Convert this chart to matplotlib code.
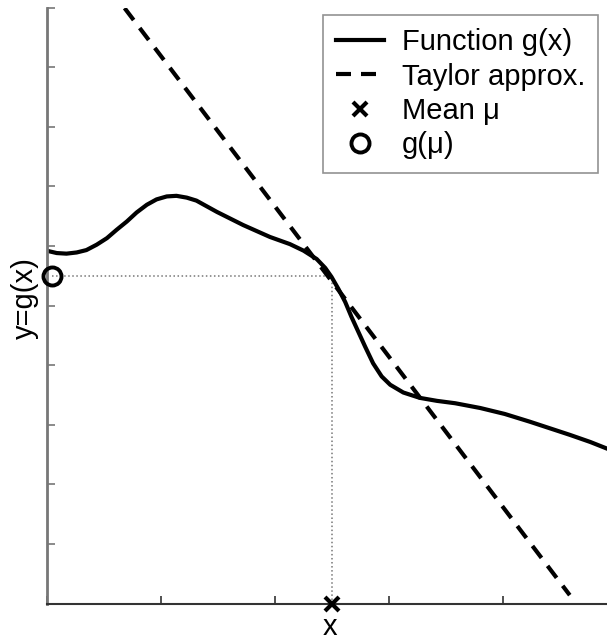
"""Nonlinear function g(x), its Taylor approximation at the mean."""

import matplotlib
matplotlib.use("Agg")
import matplotlib.pyplot as plt

plt.rcParams["font.family"] = ["Liberation Sans", "DejaVu Sans"]

# function g(x)
gx = [0.000, 0.018, 0.035, 0.053, 0.070, 0.088, 0.106, 0.123, 0.141,
      0.158, 0.176, 0.193, 0.211, 0.228, 0.246, 0.263, 0.299, 0.345,
      0.392, 0.427, 0.451, 0.474, 0.489, 0.500, 0.512, 0.524, 0.535,
      0.547, 0.559, 0.573, 0.588, 0.603, 0.626, 0.655, 0.685, 0.717,
      0.761, 0.804, 0.848, 0.883, 0.918, 0.954, 0.983, 1.000]
gy = [0.592, 0.588, 0.587, 0.589, 0.593, 0.602, 0.613, 0.627, 0.641,
      0.656, 0.669, 0.678, 0.683, 0.684, 0.681, 0.676, 0.657, 0.635,
      0.615, 0.603, 0.592, 0.578, 0.563, 0.548, 0.528, 0.506, 0.481,
      0.456, 0.431, 0.403, 0.381, 0.367, 0.354, 0.345, 0.340, 0.336,
      0.328, 0.318, 0.305, 0.294, 0.283, 0.271, 0.260, 0.254]

# first-order Taylor line (end points)
taylor_x = [0.137, 0.918]
taylor_y = [0.999, 0.014]

mu = 0.5
g_mu = 0.549

xticks = [0.0, 0.2, 0.4, 0.6, 0.8, 1.0]
yticks = [0.0, 0.1, 0.2, 0.3, 0.4, 0.5, 0.6, 0.7, 0.8, 0.9, 1.0]

fig = plt.figure(figsize=(6.07, 6.42), dpi=100)
ax = fig.add_axes([46.5 / 607, 38.5 / 642, 570 / 607, 596 / 642])

ax.plot([0.01, mu], [g_mu, g_mu], ":", color="#777777", lw=1.1)
ax.plot([mu, mu], [0, g_mu], ":", color="#777777", lw=1.1)

ax.plot(gx, gy, "-", color="black", lw=3, label="Function g(x)")
ax.plot(taylor_x, taylor_y, "--", color="black", lw=3, dashes=(3.6, 2.4),
        label="Taylor approx.")
ax.plot([mu], [0], "x", color="black", ms=10, mew=3, clip_on=False,
        zorder=5, label="Mean \u03bc")
ax.plot([0.01], [g_mu], "o", color="black", mfc="none", ms=13, mew=2.8,
        clip_on=False, zorder=5, label="g(\u03bc)")

ax.set_xlim(0, 1)
ax.set_ylim(0, 1)
ax.set_xticks(xticks)
ax.set_yticks(yticks)
ax.set_xticklabels([])
ax.set_yticklabels([])
ax.tick_params(direction="in", length=6, width=1.2)
ax.tick_params(axis="y", colors="#777777")
ax.tick_params(axis="x", colors="#333333")

for side in ("top", "right"):
    ax.spines[side].set_visible(False)
ax.spines["left"].set_color("#777777")
ax.spines["left"].set_linewidth(2)
ax.spines["bottom"].set_color("#333333")
ax.spines["bottom"].set_linewidth(1.5)

leg = ax.legend(loc="upper left", fontsize=21, frameon=True, fancybox=False,
                handlelength=1.65, handletextpad=0.6, labelspacing=0.22,
                borderpad=0.45, borderaxespad=0)
leg.get_frame().set_edgecolor("#777777")
leg.get_frame().set_linewidth(1.2)
# place the legend box in figure pixels
leg.set_bbox_to_anchor((323 / 607, 1 - 15 / 642), transform=fig.transFigure)

fig.text(25 / 607, 1 - 298 / 642, "y=g(x)", rotation=90, fontsize=21,
         ha="center", va="center")
fig.text(330 / 607, 1 - 627 / 642, "x", fontsize=21, ha="center", va="center")

fig.savefig("out.png", dpi=100)
